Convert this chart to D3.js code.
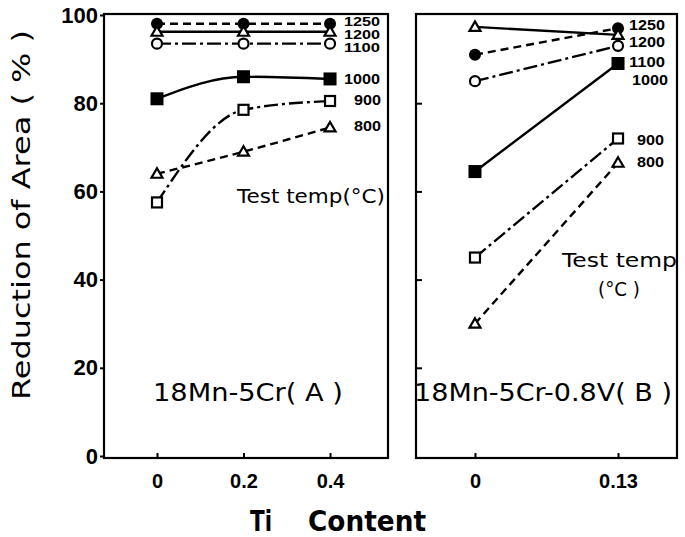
<!DOCTYPE html>
<html><head><meta charset="utf-8">
<script src="https://cdn.jsdelivr.net/npm/d3@7"></script>
<style>body{margin:0;background:#fff}svg{display:block}</style>
</head><body>
<svg id="c" width="685" height="537"></svg>
<script>
// ---- data ----
const temps = [1250, 1200, 1100, 1000, 900, 800];
const markerTypes = ["circleFilled", "triangle", "circle", "squareFilled", "square", "triangle"];
const lineStyles = ["dash", "solid", "dashdot", "solid", "dashdot", "dash"];
const tiA = [0, 0.2, 0.4];
const tiB = [0, 0.13];
const raA1250 = [98, 98, 98];
const raA1200 = [96.2, 96.2, 96.2];
const raA1100 = [93.5, 93.5, 93.5];
const raA1000 = [81, 86, 85.5];
const raA900 = [57.5, 78.5, 80.5];
const raA800 = [64, 69, 74.5];
const raB1250 = [91, 97];
const raB1200 = [97.3, 95.5];
const raB1100 = [85, 93];
const raB1000 = [64.5, 89];
const raB900 = [45, 72];
const raB800 = [30, 66.5];
const yTicks = [0, 20, 40, 60, 80, 100];
const xTicksA = ["0", "0.2", "0.4"];
const xTicksB = ["0", "0.13"];

const seriesA = [raA1250, raA1200, raA1100, raA1000, raA900, raA800];
const seriesB = [raB1250, raB1200, raB1100, raB1000, raB900, raB800];

const svg = d3.select("#c");
const frameTop = 14, frameBottom = 458;
const y = d3.scaleLinear().domain([0, 100]).range([456, 15]);
const xA = d3.scaleLinear().domain([-0.1225, 0.534]).range([104, 388]);
const xB = d3.scaleLinear().domain([-0.0536, 0.1836]).range([416, 677]);
const dashMap = {solid: null, dash: "8,5", dashdot: "14,4,3,4"};
const numFont = "'Liberation Sans', Arial, sans-serif";

function frame(x0, x1) {
  svg.append("rect").attr("x", x0).attr("y", frameTop).attr("width", x1 - x0).attr("height", frameBottom - frameTop)
    .attr("fill", "none").attr("stroke", "#000").attr("stroke-width", 2.2);
}
frame(104, 388);
frame(416, 677);

// left y axis
const ga = svg.append("g").attr("transform", "translate(104,0)")
  .call(d3.axisLeft(y).tickValues(yTicks).tickSize(4).tickPadding(2).tickFormat(d3.format("d")));
ga.select(".domain").remove();
ga.selectAll("line").attr("stroke-width", 2);
ga.selectAll("text").attr("font-family", numFont).attr("font-weight", "bold").attr("font-size", 22).attr("fill", "#000");
// right panel inner y ticks
const gb = svg.append("g").attr("transform", "translate(416,0)")
  .call(d3.axisLeft(y).tickValues(yTicks.slice(1, 5)).tickSize(-6).tickFormat(""));
gb.select(".domain").remove();
gb.selectAll("line").attr("stroke-width", 2);

// x axes
function xAxis(scale, vals, labels) {
  const g = svg.append("g").attr("transform", `translate(0,${frameBottom})`)
    .call(d3.axisBottom(scale).tickValues(vals).tickSize(-5).tickPadding(16).tickFormat((d, i) => labels[i]));
  g.select(".domain").remove();
  g.selectAll("line").attr("stroke-width", 2);
  g.selectAll("text").attr("font-family", numFont).attr("font-weight", "bold").attr("font-size", 20).attr("fill", "#000");
}
xAxis(xA, tiA, xTicksA);
xAxis(xB, tiB, xTicksB);

function drawSeries(xs, xScale, series, curve) {
  series.forEach((vals, i) => {
    const pts = xs.map((x, j) => [xScale(x), y(vals[j])]);
    svg.append("path").attr("d", d3.line().curve(curve)(pts))
      .attr("fill", "none").attr("stroke", "#000").attr("stroke-width", 2.4)
      .attr("stroke-dasharray", dashMap[lineStyles[i]]);
  });
  series.forEach((vals, i) => {
    const t = markerTypes[i];
    xs.forEach((x, j) => {
      const cx = xScale(x), cy = y(vals[j]);
      if (t === "circleFilled") svg.append("circle").attr("cx", cx).attr("cy", cy).attr("r", 6).attr("fill", "#000");
      else if (t === "circle") svg.append("circle").attr("cx", cx).attr("cy", cy).attr("r", 5).attr("fill", "#fff").attr("stroke", "#000").attr("stroke-width", 2.2);
      else if (t === "squareFilled") svg.append("rect").attr("x", cx - 6.5).attr("y", cy - 6.5).attr("width", 13).attr("height", 13).attr("fill", "#000");
      else if (t === "square") svg.append("rect").attr("x", cx - 5).attr("y", cy - 5).attr("width", 10).attr("height", 10).attr("fill", "#fff").attr("stroke", "#000").attr("stroke-width", 2.2);
      else if (t === "triangle") svg.append("path").attr("d", `M${cx},${cy - 5.5}L${cx + 5.5},${cy + 4}L${cx - 5.5},${cy + 4}Z`).attr("fill", "#fff").attr("stroke", "#000").attr("stroke-width", 2.2);
    });
  });
}
drawSeries(tiA, xA, seriesA, d3.curveMonotoneX);
drawSeries(tiB, xB, seriesB, d3.curveLinear);

// temperature labels
function lab(x, yy, t, size) {
  svg.append("text").attr("x", x).attr("y", yy).attr("dy", "0.35em").text(t)
    .attr("font-family", numFont).attr("font-weight", "bold").attr("font-size", size)
    .attr("textLength", String(t).length * 9).attr("lengthAdjust", "spacingAndGlyphs").attr("fill", "#000");
}
const labA = [[344, 22, 12], [344, 35, 12], [344, 48, 12], [344, 79, 15], [354, 100, 15], [354, 126, 15]];
const labB = [[629, 25, 14], [629, 42, 14], [629, 62, 15], [632, 80, 15], [637, 140, 15], [637, 162, 15]];
temps.forEach((t, i) => { lab(labA[i][0], labA[i][1], t, labA[i][2]); lab(labB[i][0], labB[i][1], t, labB[i][2]); });

const txtFont = "'DejaVu Sans', sans-serif";
function txt(x, yy, t, size, anchor, len) {
  const e = svg.append("text").attr("x", x).attr("y", yy).attr("dy", "0.35em").text(t)
    .attr("font-family", txtFont).attr("font-size", size).attr("text-anchor", anchor || "start").attr("fill", "#000");
  if (len) e.attr("textLength", len).attr("lengthAdjust", "spacingAndGlyphs");
  return e;
}
txt(237, 196, "Test  temp(°C)", 20, "start", 148);
txt(562, 260, "Test  temp", 20, "start", 115);
txt(619, 289, "(°C )", 20, "middle", 42);
txt(153, 393, "18Mn-5Cr( A )", 24, "start", 190);
txt(414, 393, "18Mn-5Cr-0.8V( B )", 24, "start", 258);
txt(250, 521, "Ti", 29, "start", 22).attr("font-weight", "bold");
txt(308, 521, "Content", 29, "start", 118).attr("font-weight", "bold");
svg.append("text").attr("transform", "translate(21,215) rotate(-90)").attr("dy", "0.35em")
  .attr("text-anchor", "middle").attr("font-family", txtFont).attr("font-size", 25)
  .attr("textLength", 370).attr("lengthAdjust", "spacingAndGlyphs").text("Reduction of Area ( % )");
</script>
</body></html>
